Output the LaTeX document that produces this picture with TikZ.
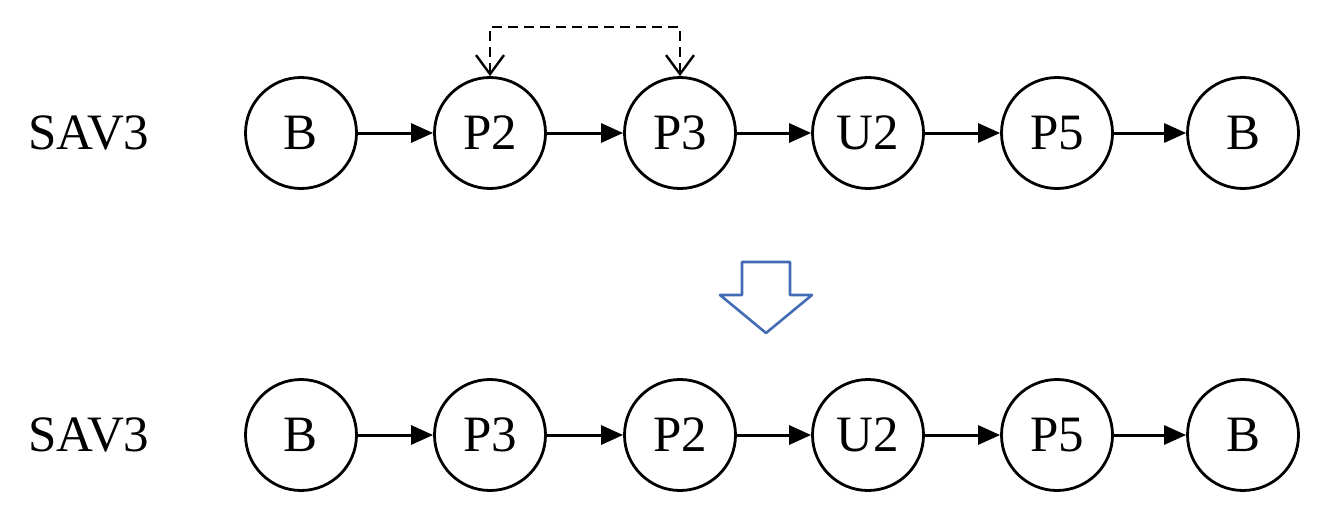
\documentclass[tikz,border=0pt]{standalone}
\usepackage{fontspec}
\setmainfont{Liberation Serif}
\usetikzlibrary{arrows.meta}
\begin{document}
\begin{tikzpicture}[x=1pt,y=-1pt,
  st/.style={circle,draw,line width=2.8pt,minimum size=111pt,inner sep=0pt,font=\fontsize{51}{55}\selectfont},
  lbl/.style={font=\fontsize{51}{55}\selectfont},
  link/.style={-{Triangle[length=22pt,width=19pt]},line width=3pt},
  swap/.style={{Straight Barb[length=19pt,width=28pt,line width=2.4pt]}-{Straight Barb[length=19pt,width=28pt,line width=2.4pt]},dash pattern=on 10pt off 6pt,line width=2.6pt}]
\useasboundingbox (0,0) rectangle (1329,516);
\node[lbl] (l1) at (89,133) {SAV3};
\node[lbl] (l2) at (89,435) {SAV3};
\foreach \n/\x/\t in {a/301/B,b/490/P2,c/680/P3,d/868/U2,e/1057/P5,f/1243/B}{
  \node[st] (t\n) at (\x,133) {\t};}
\foreach \n/\x/\t in {a/301/B,b/490/P3,c/680/P2,d/868/U2,e/1057/P5,f/1243/B}{
  \node[st] (b\n) at (\x,435) {\t};}
\foreach \p/\q in {a/b,b/c,c/d,d/e,e/f}{
  \draw[link] (t\p) -- (t\q);
  \draw[link] (b\p) -- (b\q);}
\coordinate (s1) at (490,27);
\coordinate (s2) at (680,27);
\draw[swap] (tb.north) -- (s1) -- (s2) -- (tc.north);
\draw[draw={rgb,255:red,68;green,108;blue,180},line width=2.6pt,line join=round]
  (742,262) -- (790,262) -- (790,295) -- (812,295) -- (766,333) -- (720,295) -- (742,295) -- cycle;
\end{tikzpicture}
\end{document}
